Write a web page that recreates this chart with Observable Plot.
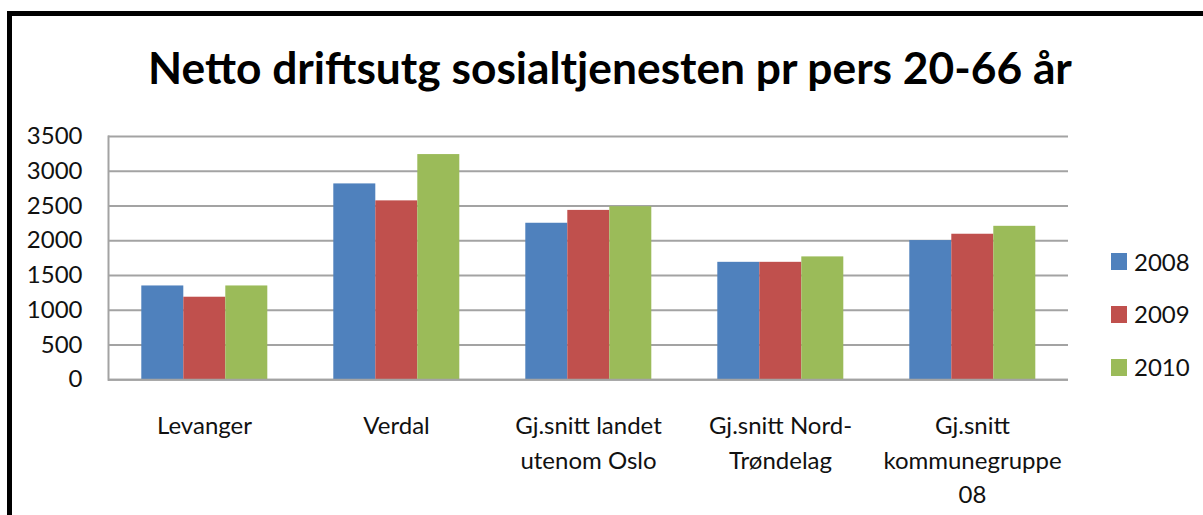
<!DOCTYPE html>
<html>
<head>
<meta charset="utf-8">
<script src="https://cdn.jsdelivr.net/npm/d3@7"></script>
<script src="https://cdn.jsdelivr.net/npm/@observablehq/plot@0.6"></script>
<style>
html, body { margin: 0; padding: 0; background: #fff; overflow: hidden; width: 1203px; height: 515px; }
#wrap { position: relative; width: 1203px; height: 515px; font-family: Lato, "Open Sans", sans-serif; color: #000; }
#border { position: absolute; left: 7px; top: 11px; width: 1400px; height: 700px; border: 5px solid #000; box-sizing: border-box; }
#title { position: absolute; left: 0; width: 1220px; text-align: center; font-weight: 700; line-height: 1; white-space: nowrap; }
#chart { position: absolute; left: 0; top: 0; }
.swatch { position: absolute; width: 16px; height: 17px; }
.ltext { position: absolute; font-size: 24px; line-height: 24px; white-space: nowrap; }
</style>
</head>
<body>
<div id="wrap">
  <div id="border"></div>
  <div id="chart"></div>
  <div id="title"><span id="titletext"></span></div>
  <div id="legend"></div>
</div>
<script>
const titleText = "Netto driftsutg sosialtjenesten pr pers 20-66 år";
const categories = ["Levanger", "Verdal", "Gj.snitt landet utenom Oslo", "Gj.snitt Nord-Trøndelag", "Gj.snitt kommunegruppe 08"];
const categoryLabels = ["Levanger", "Verdal", "Gj.snitt landet\nutenom Oslo", "Gj.snitt Nord-\nTrøndelag", "Gj.snitt\nkommunegruppe\n08"];
const years = ["2008", "2009", "2010"];
const values2008 = [1350, 2818, 2252, 1690, 2003];
const values2009 = [1188, 2574, 2437, 1690, 2094];
const values2010 = [1350, 3240, 2490, 1768, 2208];
const yTicks = [0, 500, 1000, 1500, 2000, 2500, 3000, 3500];
const colors = ["#4F81BD", "#C0504D", "#9BBB59"];

const series = [values2008, values2009, values2010];
const data = [];
categories.forEach((c, i) => years.forEach((y, j) => data.push({category: c, year: y, value: series[j][i]})));
const labelOf = new Map(categories.map((c, i) => [c, categoryLabels[i]]));

const gridColor = "#a3a3a3";
const chart = Plot.plot({
  width: 1203,
  height: 515,
  marginLeft: 106.7,
  marginRight: 134,
  marginTop: 136,
  marginBottom: 135.7,
  style: {fontFamily: "Lato, 'Open Sans', sans-serif", fontSize: "24px", color: "#000", background: "transparent"},
  fx: {domain: categories, padding: 0, label: null},
  x: {domain: years, paddingInner: 0, paddingOuter: 0.753, axis: null},
  y: {domain: [0, 3500], label: null},
  color: {domain: years, range: colors},
  marks: [
    Plot.gridY(yTicks, {stroke: gridColor, strokeOpacity: 1, strokeWidth: 2}),
    Plot.barY(data, {fx: "category", x: "year", y: "value", fill: "year"}),
    Plot.ruleY([0], {stroke: gridColor, strokeWidth: 2}),
    Plot.frame({anchor: "left", facetAnchor: "left", stroke: gridColor, strokeWidth: 2}),
    Plot.axisY(yTicks, {tickSize: 0, tickPadding: 26, fontSize: 24, fill: "#111", tickFormat: d => String(d), label: null}),
    Plot.axisFx({anchor: "bottom", tickSize: 0, tickPadding: 30, fontSize: 24, lineHeight: 1.44, fill: "#111", tickFormat: d => labelOf.get(d), label: null})
  ]
});
document.getElementById("chart").appendChild(chart);

// title, fitted to the reference's width
const span = document.getElementById("titletext");
span.textContent = titleText;
const titleDiv = document.getElementById("title");
let fs = 46;
titleDiv.style.fontSize = fs + "px";
const w = span.getBoundingClientRect().width;
fs = fs * 924 / w;
titleDiv.style.fontSize = fs + "px";
titleDiv.style.top = (53 - 0.17 * fs) + "px";

// legend
const legend = document.getElementById("legend");
years.forEach((y, i) => {
  const cy = 261.5 + i * 52.75;
  const sw = document.createElement("div");
  sw.className = "swatch";
  sw.style.left = "1111px";
  sw.style.top = (cy - 8.5) + "px";
  sw.style.background = colors[i];
  legend.appendChild(sw);
  const t = document.createElement("div");
  t.className = "ltext";
  t.style.left = "1134px";
  t.style.top = (cy - 12) + "px";
  t.style.color = "#111";
  t.textContent = y;
  legend.appendChild(t);
});
</script>
</body>
</html>
